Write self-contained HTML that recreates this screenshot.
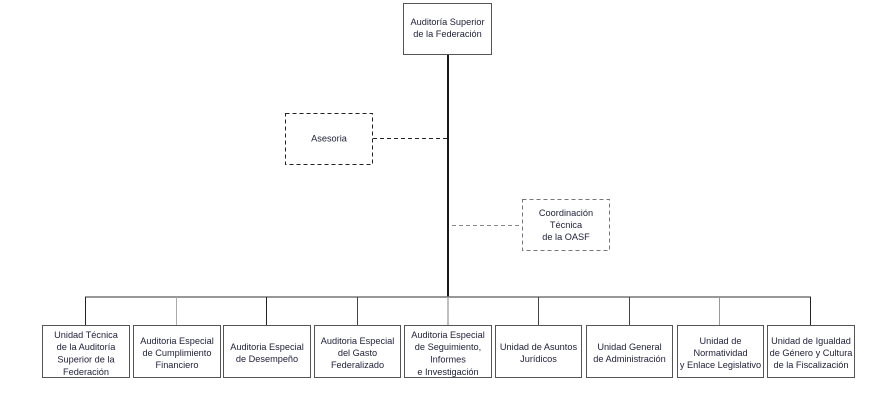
<!DOCTYPE html>
<html><head><meta charset="utf-8"><style>
html,body{margin:0;padding:0;background:#fff;}
svg{display:block;}
text{font-family:"Liberation Sans",Arial,sans-serif;font-size:9.2px;fill:#22223a;text-anchor:middle;}
</style></head><body>
<svg width="883" height="410" viewBox="0 0 883 410" xmlns="http://www.w3.org/2000/svg">
<!-- main vertical -->
<line x1="448" y1="54" x2="448" y2="297" stroke="#1a1a1a" stroke-width="2"/>
<!-- top box -->
<rect x="403.5" y="3.5" width="88" height="51" fill="#fff" stroke="#555" stroke-width="1"/>
<text x="447.5" y="25">Auditoría Superior</text>
<text x="447.5" y="37">de la Federación</text>
<!-- Asesoria -->
<rect x="285.5" y="113.5" width="87" height="51" fill="#fff" stroke="#222" stroke-width="1" stroke-dasharray="4,3"/>
<line x1="373" y1="138.5" x2="447" y2="138.5" stroke="#222" stroke-width="1" stroke-dasharray="4,3"/>
<text x="329" y="141.5">Asesoria</text>
<!-- Coordinacion -->
<rect x="522.5" y="199.5" width="87" height="51" fill="#fff" stroke="#777" stroke-width="1" stroke-dasharray="4,3"/>
<line x1="452" y1="225.5" x2="522" y2="225.5" stroke="#888" stroke-width="1" stroke-dasharray="4,3"/>
<text x="566" y="216">Coordinación</text>
<text x="566" y="228">Técnica</text>
<text x="566" y="240">de la OASF</text>
<!-- horizontal bus -->
<line x1="85" y1="297" x2="811" y2="297" stroke="#777" stroke-width="1.5"/>
<!-- drops -->
<g stroke-width="1">
<line x1="85.5" y1="297" x2="85.5" y2="326" stroke="#222"/>
<line x1="176.5" y1="297" x2="176.5" y2="326" stroke="#aaa"/>
<line x1="266.5" y1="297" x2="266.5" y2="326" stroke="#222"/>
<line x1="357.5" y1="297" x2="357.5" y2="326" stroke="#444"/>
<line x1="448" y1="297" x2="448" y2="326" stroke="#aaa" stroke-width="1.5"/>
<line x1="538.5" y1="297" x2="538.5" y2="326" stroke="#444"/>
<line x1="629.5" y1="297" x2="629.5" y2="326" stroke="#444"/>
<line x1="719.5" y1="297" x2="719.5" y2="326" stroke="#999"/>
<line x1="810.5" y1="297" x2="810.5" y2="326" stroke="#222"/>
</g>
<!-- bottom boxes -->
<g fill="#fff" stroke="#555" stroke-width="1">
<rect x="42.5" y="325.5" width="87" height="52"/>
<rect x="133.5" y="325.5" width="87" height="52"/>
<rect x="223.5" y="325.5" width="87" height="52"/>
<rect x="314.5" y="325.5" width="86" height="52"/>
<rect x="404.5" y="325.5" width="87" height="52"/>
<rect x="495.5" y="325.5" width="86" height="52"/>
<rect x="586.5" y="325.5" width="86" height="52"/>
<rect x="677.5" y="325.5" width="86" height="52"/>
<rect x="767.5" y="325.5" width="87" height="52"/>
</g>
<text x="86" y="338">Unidad Técnica</text>
<text x="86" y="350">de la Auditoría</text>
<text x="86" y="362.5">Superior de la</text>
<text x="86" y="375">Federación</text>

<text x="177" y="344">Auditoria Especial</text>
<text x="177" y="356">de Cumplimiento</text>
<text x="177" y="368">Financiero</text>

<text x="267" y="350">Auditoria Especial</text>
<text x="267" y="362">de Desempeño</text>

<text x="357.5" y="344">Auditoria Especial</text>
<text x="357.5" y="356">del Gasto</text>
<text x="357.5" y="368">Federalizado</text>

<text x="448" y="338">Auditoria Especial</text>
<text x="448" y="350">de Seguimiento,</text>
<text x="448" y="362.5">Informes</text>
<text x="448" y="375">e Investigación</text>

<text x="538.5" y="350">Unidad de Asuntos</text>
<text x="538.5" y="362">Jurídicos</text>

<text x="629.5" y="350">Unidad General</text>
<text x="629.5" y="362">de Administración</text>

<text x="720.5" y="344">Unidad de</text>
<text x="720.5" y="356">Normatividad</text>
<text x="720.5" y="368">y Enlace Legislativo</text>

<text x="811" y="344">Unidad de Igualdad</text>
<text x="811" y="356">de Género y Cultura</text>
<text x="811" y="368">de la Fiscalización</text>
</svg>
</body></html>
